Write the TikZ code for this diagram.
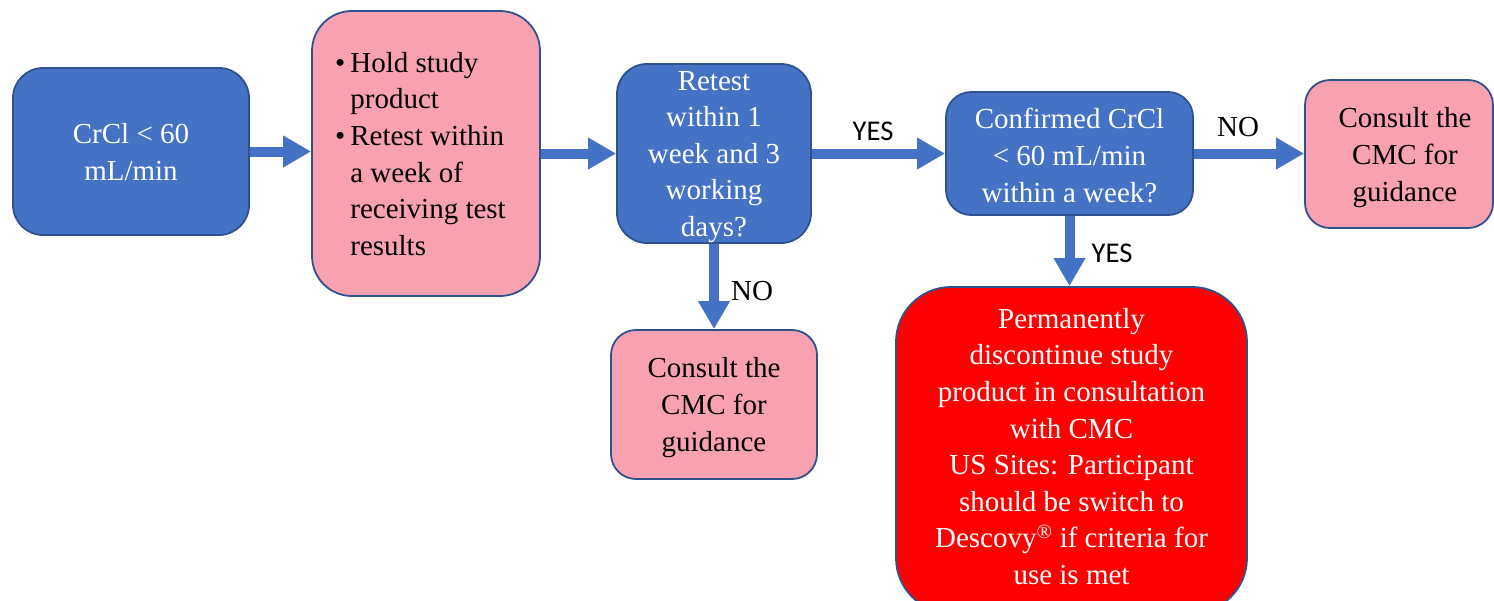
\documentclass[tikz,border=0pt]{standalone}
\usepackage{fontspec}
\setmainfont{Liberation Serif}
\newfontfamily\labelsans{Carlito}
\usetikzlibrary{arrows.meta}
\definecolor{boxblue}{HTML}{4472C4}
\definecolor{edgeblue}{HTML}{2F528F}
\definecolor{boxpink}{HTML}{F8A1B0}
\definecolor{boxred}{HTML}{FF0000}
\tikzset{
  panel/.style={draw=edgeblue, line width=1.8pt, inner sep=0pt, rectangle},
  bluepanel/.style={panel, fill=boxblue},
  pinkpanel/.style={panel, fill=boxpink},
  redpanel/.style={panel, fill=boxred},
  body/.style={font=\fontsize{29}{36.6}\selectfont, inner sep=0pt, align=center},
  whitetext/.style={body, text=white},
  flow/.style={draw=boxblue, line width=10pt, -{Triangle[width=30pt,length=28pt]}},
  serifnote/.style={font=\fontsize{29}{34}\selectfont, inner sep=0pt},
  sansnote/.style={font=\labelsans\fontsize{28.6}{34}\selectfont, inner sep=0pt},
}
\begin{document}
\begin{tikzpicture}[x=1pt,y=-1pt]
\useasboundingbox (0,0) rectangle (1494,600);
\clip (0,0) rectangle (1494,600);

% boxes
\node[bluepanel, rounded corners=30pt, minimum width=236pt, minimum height=167pt] (start) at (131,151.5) {};
\node[pinkpanel, rounded corners=40pt, minimum width=228pt, minimum height=285pt] (hold) at (426,153.5) {};
\node[bluepanel, rounded corners=30pt, minimum width=194pt, minimum height=179pt] (retest) at (714,153.5) {};
\node[bluepanel, rounded corners=25pt, minimum width=247pt, minimum height=123pt] (confirm) at (1069.5,153.5) {};
\node[pinkpanel, rounded corners=25pt, minimum width=188pt, minimum height=148pt] (cmcright) at (1399,154) {};
\node[pinkpanel, rounded corners=25pt, minimum width=206pt, minimum height=149pt] (cmcbelow) at (714,404.5) {};
\node[redpanel, rounded corners=55pt, minimum width=351pt, minimum height=326pt] (stop) at (1071.5,450) {};

% box texts
\node[whitetext] (startText) at (131,152) {CrCl < 60\\mL/min};
\node[body, anchor=west] (holdText) at (335,156.5) {%
  \begin{tabular}{@{}c@{\hspace{5pt}}l@{}}
  \textbullet & Hold study\\
              & product\\
  \textbullet & Retest within\\
              & a week of\\
              & receiving test\\
              & results
  \end{tabular}};
\node[whitetext] (retestText) at (714,157) {Retest\\within 1\\week and 3\\working\\days?};
\node[whitetext] (confirmText) at (1069.5,155.5) {Confirmed CrCl\\< 60 mL/min\\within a week?};
\node[body] (cmcrightText) at (1405,157.5) {Consult the\\CMC for\\guidance};
\node[body] (cmcbelowText) at (714,407.5) {Consult the\\CMC for\\guidance};
\node[whitetext] (stopText) at (1071.5,446.5) {Permanently\\discontinue study\\product in consultation\\with CMC\\US Sites: Participant\\should be switch to\\Descovy\textsuperscript{®} if criteria for\\use is met};

% connectors
\draw[flow] (start.east) -- (start.east -| hold.west);
\draw[flow] (hold.east) -- (retest.west);
\draw[flow] (retest.east) -- (confirm.west);
\draw[flow] (confirm.east) -- (confirm.east -| cmcright.west);
\draw[flow] (retest.south) -- (cmcbelow.north);
\draw[flow] (confirm.south) -- (confirm.south |- stop.north);

% branch labels
\node[sansnote] (yesRight) at (873,131) {YES};
\node[serifnote] (noRight) at (1238,127) {NO};
\node[serifnote] (noDown) at (752,291) {NO};
\node[sansnote] (yesDown) at (1112,253) {YES};
\end{tikzpicture}
\end{document}
